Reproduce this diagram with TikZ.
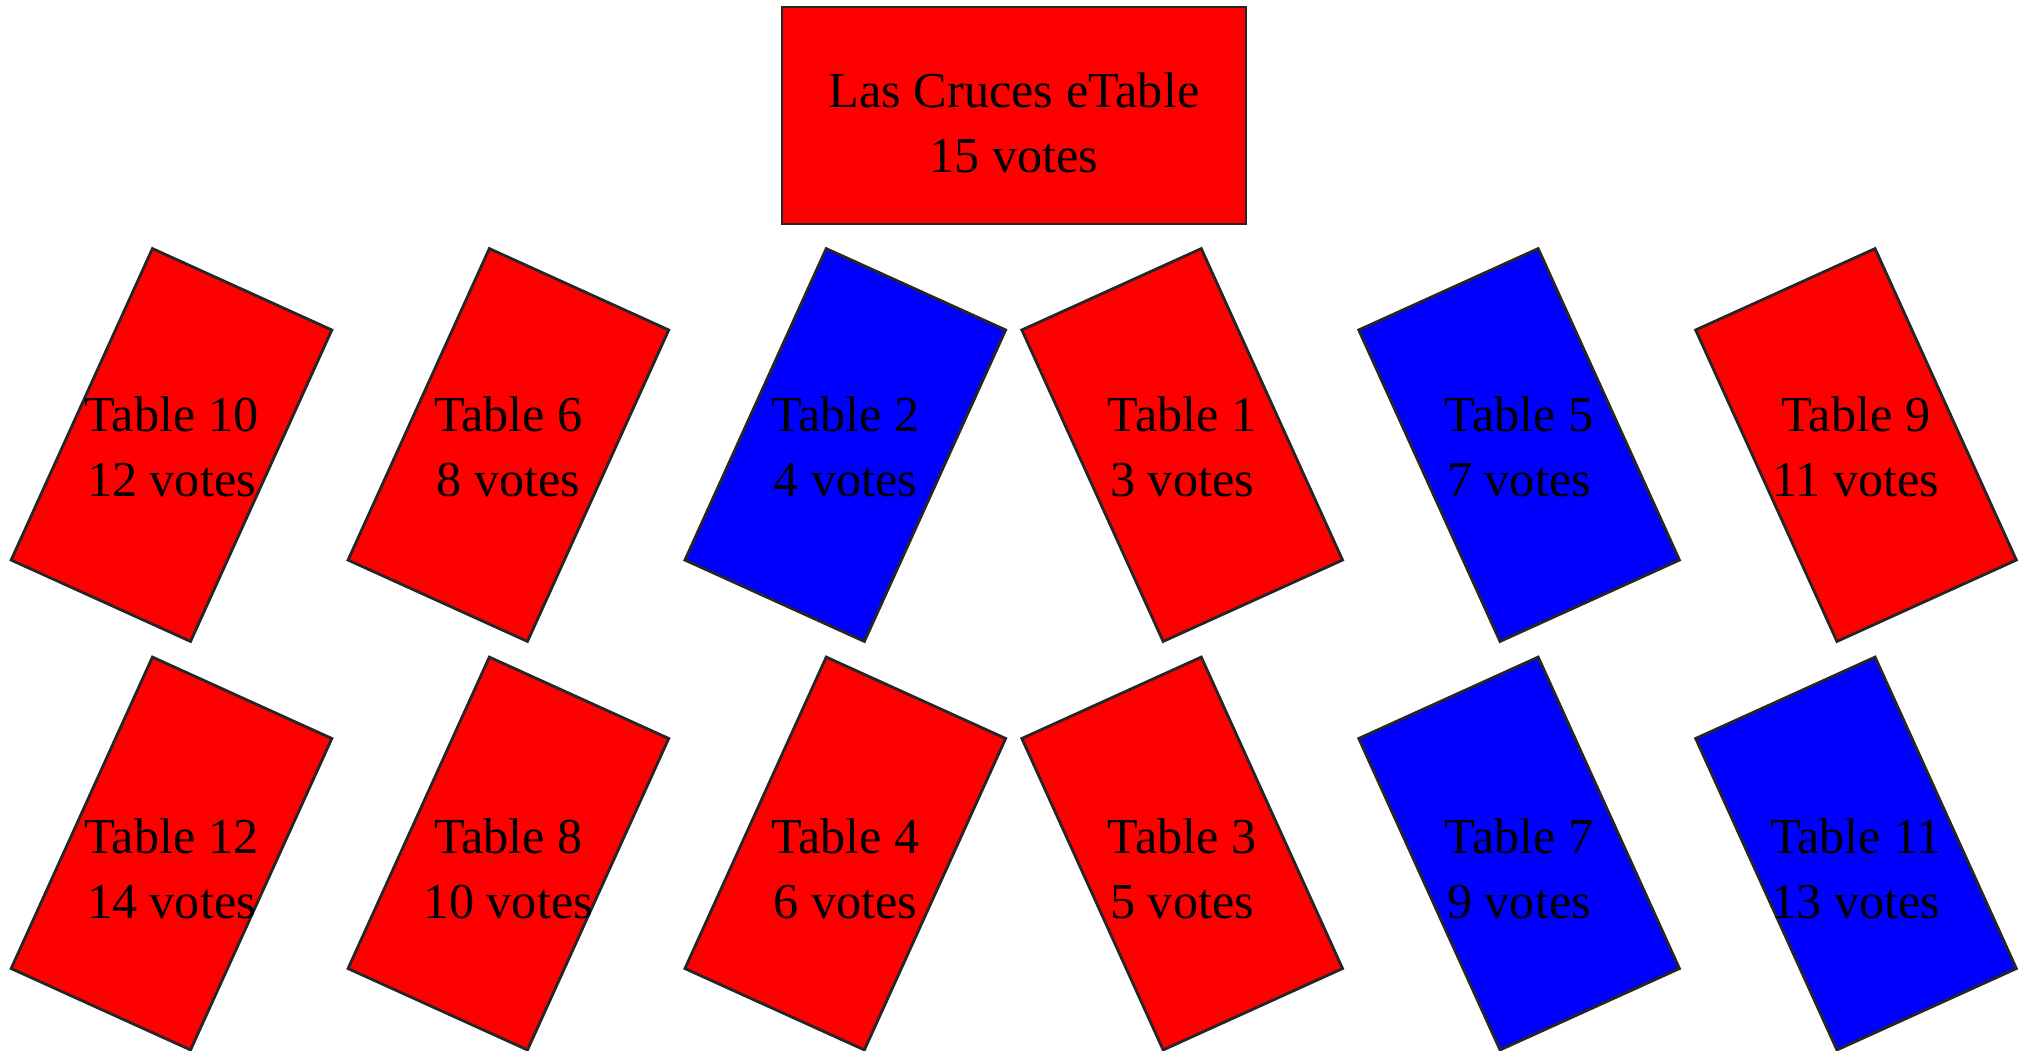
\documentclass[tikz,border=0pt]{standalone}
\usepackage{fontspec}
\setmainfont{Liberation Serif}
\usepackage{tikz}

\begin{document}
\begin{tikzpicture}[
    tablebox/.style={draw=black!85,line width=0.8pt,minimum width=1.97cm,minimum height=3.42cm,inner sep=0pt},
    votes/.style={align=center,font=\fontsize{14.3}{18.4}\selectfont}
  ]
    \useasboundingbox (0,0) rectangle (20.23,-10.5);
    \node[draw=black!85,line width=0.8pt,fill=red,minimum width=4.64cm,minimum height=2.17cm] (etable) at (10.14,-1.155) {};
    \node[votes,yshift=-0.07cm] at (etable) {Las Cruces eTable\\15 votes};
    \foreach \i/\j/\num/\vts/\clr/\ang in {0/0/10/12/red/-24.4, 1/0/6/8/red/-24.4, 2/0/2/4/blue/-24.4, 3/0/1/3/red/24.4, 4/0/5/7/blue/24.4, 5/0/9/11/red/24.4, 0/1/12/14/red/-24.4, 1/1/8/10/red/-24.4, 2/1/4/6/red/-24.4, 3/1/3/5/red/24.4, 4/1/7/9/blue/24.4, 5/1/11/13/blue/24.4}
    {
      \node[tablebox,fill=\clr,rotate=\ang] (t\num) at ({1.715+3.369*\i},{-4.45-4.085*\j}) {};
      \node[votes,yshift={-0.02cm-0.13cm*\j}] at (t\num) {Table \num\\\vts{} votes};
    }
  \end{tikzpicture}
\end{document}
